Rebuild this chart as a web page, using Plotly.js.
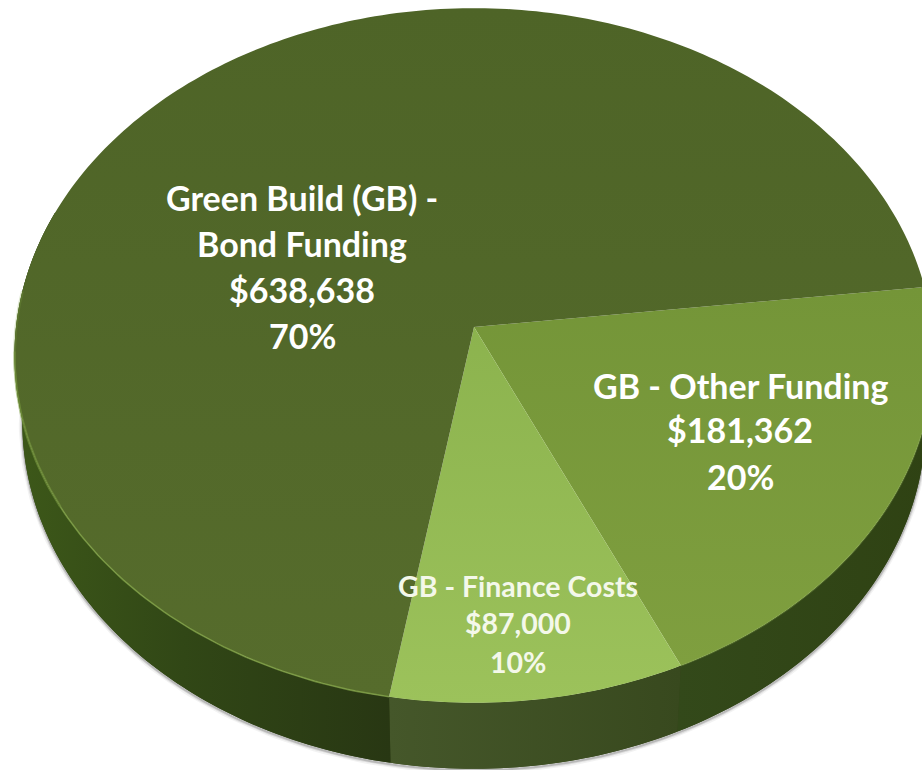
<!DOCTYPE html>
<html>
<head>
<meta charset="utf-8">
<script src="https://cdn.plot.ly/plotly-3.0.1.min.js"></script>
<style>html,body{margin:0;padding:0;background:#fff}#chart{width:922px;height:770px}</style>
</head>
<body>
<div id="chart"></div>
<script>
// ---- data (clockwise from the right-hand edge of the pie) ----
const sliceNames  = ["GB - Other Funding", "GB - Finance Costs", "Green Build (GB) - Bond Funding"];
const sliceValues = [181362, 87000, 638638];
const slicePcts   = ["20%", "10%", "70%"];

// ---- look ----
const topColors  = [["#749538","#7f9f3f"], ["#8cb34e","#9cc25b"], ["#4e6427","#566c2c"]];
const sideScales = [
  [[0,"#33491a"],[1,"#2f4213"]],
  [[0,"#45572a"],[1,"#38491e"]],
  [[0,"#3d5819"],[0.45,"#314716"],[1,"#283713"]]
];
const startDeg = -6.7, K = 0.082, A = 458, B = 345, AX = 474, AY = 327, DEPTH = 66, SHRINK = 0.983;

const total = sliceValues.reduce((a, b) => a + b, 0);
function rim(deg, down) {
  const t = deg * Math.PI / 180, s = Math.sin(t), w = 1 - K * s;
  const sx = down ? SHRINK : 1;
  return [AX + sx * A * Math.cos(t) / w, AY + (down ? DEPTH : 0) + B * s / w];
}
function arc(a0, a1, down) {
  const n = Math.max(2, Math.ceil(Math.abs(a1 - a0))), xs = [], ys = [];
  for (let i = 0; i <= n; i++) { const p = rim(a0 + (a1 - a0) * i / n, down); xs.push(p[0]); ys.push(p[1]); }
  return [xs, ys];
}
const traces = [];
let edges = [startDeg];
sliceValues.forEach(v => edges.push(edges[edges.length - 1] + v / total * 360));

// soft shadow below the side wall
[[7, .05], [4, .09], [2, .16]].forEach(([w, o]) => {
  const [x, y] = arc(-5, 190, true);
  traces.push({type:"scatter", mode:"lines", x, y:y.map(v=>v+1.5), hoverinfo:"skip",
    line:{color:`rgba(0,0,0,${o})`, width:w}});
});

// side wall, backed by one dark shape so no light seams show
(function () {
  const [tx, ty] = arc(-8, 200, false), [bx, by] = arc(200, -8, true);
  traces.push({type:"scatter", mode:"none", x:tx.concat(bx), y:ty.concat(by), fill:"toself",
    fillcolor:"#2f4014", hoverinfo:"skip"});
})();
sliceValues.forEach((v, i) => {
  const a0 = edges[i], a1 = Math.min(edges[i + 1], 200);
  const [tx, ty] = arc(a0, a1, false), [bx, by] = arc(a1, a0, true);
  const xs = tx.concat(bx), ys = ty.concat(by);
  const scale = i === 2 ? sideScales[2].map(([p, c]) => [p, c]) : sideScales[i];
  traces.push({type:"scatter", mode:"none", x:xs, y:ys, fill:"toself", hoverinfo:"skip",
    fillgradient:{type:"horizontal", start:Math.min(...xs), stop:Math.max(...xs), colorscale:scale}});
});

// top face
sliceValues.forEach((v, i) => {
  const [rx, ry] = arc(edges[i], edges[i + 1], false);
  const xs = [AX].concat(rx, [AX]), ys = [AY].concat(ry, [AY]);
  traces.push({type:"scatter", mode:"none", x:xs, y:ys, fill:"toself", name:sliceNames[i],
    hovertemplate:sliceNames[i] + "<extra></extra>",
    fillgradient:{type:"vertical", start:Math.min(...ys), stop:Math.max(...ys),
      colorscale:[[0,topColors[i][0]],[1,topColors[i][1]]]}});
});

// light bevel on the front rim
[[edges[2], 150, "rgba(135,170,75,.7)", 1.6], [150, 176, "rgba(125,160,65,.55)", 2.5], [176, 186, "rgba(125,160,65,.25)", 3], [2, edges[1], "rgba(140,172,80,.3)", 2]].forEach(([a,b,c,w]) => {
  const [x, y] = arc(a, b, false);
  traces.push({type:"scatter", mode:"lines", x, y, hoverinfo:"skip", line:{color:c, width:w}});
});

// labels
const money = v => "$" + v.toLocaleString("en-US");
const labelLines = [
  ["GB - Other Funding", money(sliceValues[0]), slicePcts[0]],
  ["GB - Finance Costs", money(sliceValues[1]), slicePcts[1]],
  ["Green Build (GB) -", "Bond Funding", money(sliceValues[2]), slicePcts[2]]
];
const labelX = [740, 518, 302], labelY = [[385,429,476],[586,623,662],[197,243,289,335]], labelSize = [34, 28.5, 34];
const annotations = [];
labelLines.forEach((lines, i) => lines.forEach((t, j) => annotations.push({
  x:labelX[i], y:labelY[i][j], xref:"x", yref:"y", text:"<b>" + t + "</b>", showarrow:false,
  xanchor:"center", yanchor:"middle",
  font:{family:"Lato, 'Open Sans', sans-serif", size:labelSize[i], color:i === 1 ? "#f4f8ea" : "#ffffff"}
})));

Plotly.newPlot("chart", traces, {
  width:922, height:770, margin:{l:0,r:0,t:0,b:0}, showlegend:false,
  paper_bgcolor:"#fff", plot_bgcolor:"#fff",
  xaxis:{range:[0,922], visible:false, fixedrange:true},
  yaxis:{range:[770,0], visible:false, fixedrange:true},
  annotations
}, {displayModeBar:false, staticPlot:true});
</script>
</body>
</html>
